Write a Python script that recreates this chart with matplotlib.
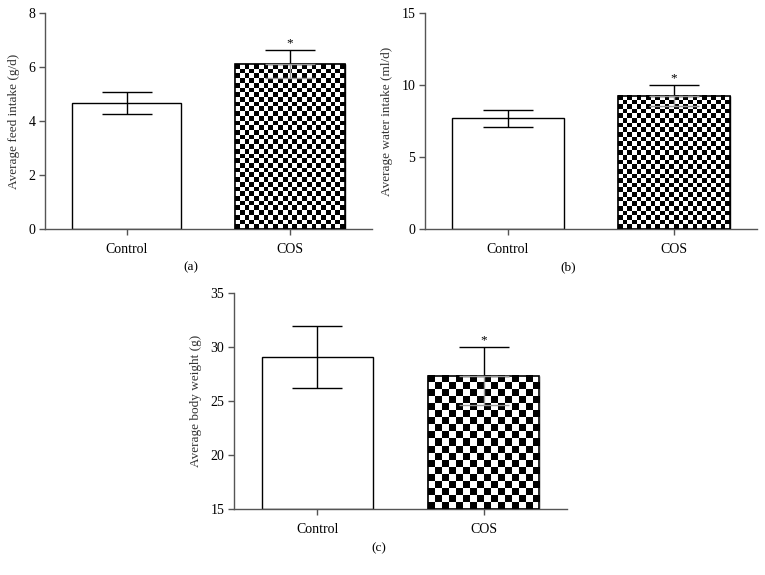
import numpy as np
import matplotlib
matplotlib.use("Agg")
import matplotlib.pyplot as plt

groups = ["Control", "COS"]

feed_mean = [4.67, 6.11]
feed_err = [0.41, 0.51]

water_mean = [7.69, 9.26]
water_err = [0.57, 0.72]

weight_mean = [29.1, 27.34]
weight_err = [2.85, 2.66]

plt.rcParams["font.family"] = ["Liberation Serif", "DejaVu Serif"]

fig = plt.figure(figsize=(7.65, 5.75), dpi=100)


def checker(ax, bar, ncols):
    # checkerboard fill clipped to the bar
    x0, y0 = bar.get_x(), bar.get_y()
    x1, y1 = x0 + bar.get_width(), y0 + bar.get_height()
    p0 = ax.transData.transform((x0, y0))
    p1 = ax.transData.transform((x1, y1))
    sq = (p1[0] - p0[0]) / ncols
    nrows = int(round((p1[1] - p0[1]) / sq))
    board = (np.add.outer(np.arange(nrows), np.arange(ncols)) % 2).astype(float)
    ax.imshow(board, cmap="gray", extent=(x0, x1, y0, y1), origin="upper",
              aspect="auto", interpolation="nearest", zorder=2, vmin=0, vmax=1)
    ax.add_patch(plt.Rectangle((x0, y0), x1 - x0, y1 - y0, fill=False,
                               edgecolor="black", lw=1.2, zorder=3))


def panel(rect, means, errs, ylim, yticks, ylabel, ncols):
    ax = fig.add_axes(rect)
    ax.set_xlim(-0.5, 1.5)
    ax.set_ylim(*ylim)
    x = np.arange(len(groups))
    bars = ax.bar(x, [m - ylim[0] for m in means], bottom=ylim[0], width=0.67,
                  color="white", edgecolor="black", lw=1.0, zorder=1)
    # control error bar
    ax.errorbar(x[0], means[0], yerr=errs[0], fmt="none", ecolor="black",
                elinewidth=1.0, capsize=18, capthick=1.0, zorder=4)
    checker(ax, bars[1], ncols)
    # COS error bar: upper in black, lower part seen through the pattern
    ax.errorbar(x[1], means[1], yerr=[[0], [errs[1]]], fmt="none", ecolor="black",
                elinewidth=1.0, capsize=18, capthick=1.0, zorder=4)
    ax.errorbar(x[1], means[1], yerr=[[errs[1]], [0]], fmt="none", ecolor="#999999",
                elinewidth=1.0, capsize=18, capthick=1.0, zorder=4)
    ax.annotate("*", (x[1], means[1] + errs[1]), xytext=(0, 1),
                textcoords="offset points", ha="center", va="bottom", fontsize=9.5)
    ax.set_yticks(yticks)
    ax.set_xticks(x)
    ax.set_xticklabels(groups)
    for s in ["top", "right"]:
        ax.spines[s].set_visible(False)
    for s in ["left", "bottom"]:
        ax.spines[s].set_color("#555555")
        ax.spines[s].set_linewidth(1.0)
    ax.tick_params(direction="out", length=4, width=1.0, color="#555555",
                   labelsize=10, pad=3)
    ax.tick_params(axis="x", pad=6)
    ax.set_ylabel(ylabel, fontsize=9.5, color="#333333", labelpad=6)
    return ax


panel([0.0588, 0.6017, 0.4272, 0.3753], feed_mean, feed_err, (0, 8),
      [0, 2, 4, 6, 8], "Average feed intake (g/d)", 23)
panel([0.5556, 0.6017, 0.4339, 0.3753], water_mean, water_err, (0, 15),
      [0, 5, 10, 15], "Average water intake (ml/d)", 24)
panel([0.306, 0.1143, 0.435, 0.3757], weight_mean, weight_err, (15, 35),
      [15, 20, 25, 30, 35], "Average body weight (g)", 16)

fig.text(191 / 765, 0.536, "(a)", ha="center", va="center", fontsize=9.5)
fig.text(568 / 765, 0.536, "(b)", ha="center", va="center", fontsize=9.5)
fig.text(379 / 765, 0.047, "(c)", ha="center", va="center", fontsize=9.5)

fig.savefig("out.png", dpi=100)
